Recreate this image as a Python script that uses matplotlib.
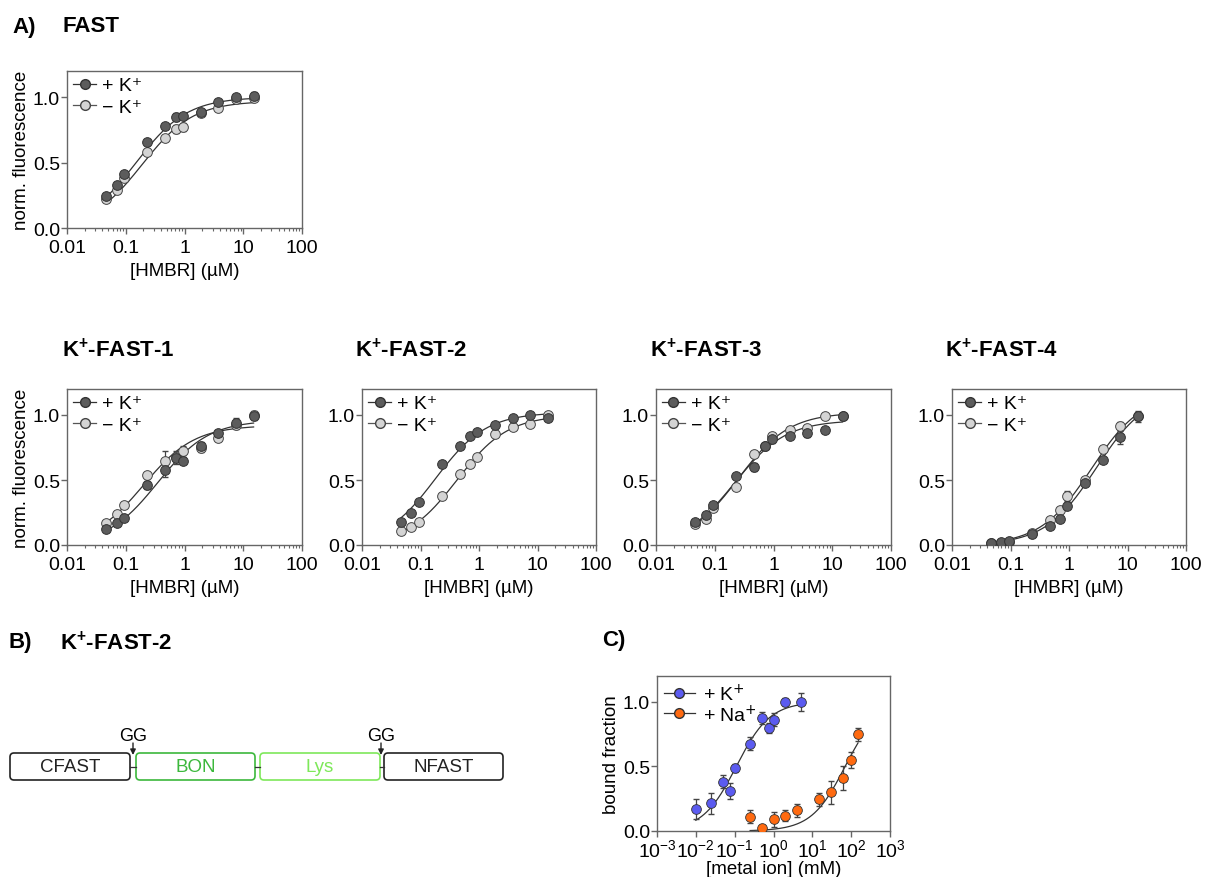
import numpy as np
import matplotlib
matplotlib.use('Agg')
import matplotlib.pyplot as plt
from matplotlib.lines import Line2D
from matplotlib.patches import FancyBboxPatch
from matplotlib.ticker import FixedLocator, LogLocator, NullFormatter

plt.rcParams['font.family'] = ['Liberation Sans', 'DejaVu Sans']
plt.rcParams['mathtext.default'] = 'regular'
plt.rcParams['font.size'] = 13

# HMBR titration (uM), same for all panels
hmbr = [0.047, 0.07, 0.094, 0.234, 0.469, 0.703, 0.9375, 1.875, 3.75, 7.5, 15]

# FAST
fast_pk = [0.245, 0.33, 0.41, 0.655, 0.78, 0.85, 0.855, 0.885, 0.96, 1.0, 1.01]
fast_pk_err = [0.01, 0.02, 0.02, 0.01, 0.01, 0.03, 0.02, 0.01, 0.01, 0.02, 0.03]
fast_mk = [0.22, 0.29, 0.385, 0.58, 0.685, 0.755, 0.775, 0.88, 0.915, 0.985, 0.99]
fast_mk_err = [0.01, 0.01, 0.02, 0.01, 0.01, 0.03, 0.03, 0.01, 0.01, 0.01, 0.02]
fast_fit = [(1.0, 0.15), (0.97, 0.19)]

# K+-FAST-1
f1_pk = [0.12, 0.17, 0.21, 0.46, 0.58, 0.67, 0.65, 0.76, 0.865, 0.94, 0.99]
f1_pk_err = [0.01, 0.01, 0.01, 0.03, 0.06, 0.05, 0.03, 0.03, 0.02, 0.04, 0.03]
f1_mk = [0.17, 0.24, 0.31, 0.54, 0.65, 0.68, 0.72, 0.745, 0.82, 0.92, 1.0]
f1_mk_err = [0.01, 0.01, 0.02, 0.02, 0.07, 0.03, 0.04, 0.03, 0.02, 0.03, 0.03]
f1_fit = [(0.96, 0.35), (0.92, 0.2)]

# K+-FAST-2
f2_pk = [0.18, 0.25, 0.33, 0.62, 0.76, 0.84, 0.87, 0.925, 0.98, 1.0, 0.975]
f2_pk_err = [0.01, 0.01, 0.01, 0.01, 0.02, 0.01, 0.01, 0.01, 0.01, 0.01, 0.01]
f2_mk = [0.105, 0.14, 0.18, 0.375, 0.55, 0.62, 0.68, 0.855, 0.91, 0.93, 1.0]
f2_mk_err = [0.01, 0.01, 0.01, 0.01, 0.01, 0.02, 0.01, 0.01, 0.02, 0.01, 0.01]
f2_fit = [(1.02, 0.18), (1.0, 0.42)]

# K+-FAST-3
f3_pk = [0.175, 0.23, 0.305, 0.53, 0.60, 0.76, 0.815, 0.84, 0.86, 0.885, 0.99]
f3_pk_err = [0.01, 0.02, 0.01, 0.01, 0.03, 0.01, 0.03, 0.01, 0.03, 0.01, 0.02]
f3_mk = [0.16, 0.20, 0.285, 0.45, 0.70, 0.76, 0.835, 0.885, 0.90, 0.99, 0.99]
f3_mk_err = [0.01, 0.01, 0.01, 0.01, 0.01, 0.01, 0.02, 0.01, 0.01, 0.01, 0.01]
f3_fit = [(0.96, 0.22), (1.02, 0.25)]

# K+-FAST-4
f4_pk = [0.018, 0.023, 0.03, 0.085, 0.145, 0.20, 0.30, 0.48, 0.655, 0.83, 0.99]
f4_pk_err = [0.01, 0.01, 0.01, 0.01, 0.01, 0.01, 0.02, 0.01, 0.01, 0.05, 0.03]
f4_mk = [0.015, 0.018, 0.023, 0.095, 0.195, 0.27, 0.375, 0.50, 0.74, 0.915, 0.99]
f4_mk_err = [0.01, 0.01, 0.01, 0.01, 0.01, 0.01, 0.04, 0.01, 0.01, 0.03, 0.04]
f4_fit = [(1.18, 2.9), (1.17, 2.4)]

# C) metal ion titration (mM)
k_conc = [0.01, 0.0245, 0.05, 0.074, 0.1, 0.25, 0.5, 0.75, 1.0, 2.0, 5.0]
k_bound = [0.17, 0.215, 0.38, 0.31, 0.485, 0.675, 0.875, 0.80, 0.86, 1.0, 1.0]
k_err = [0.075, 0.08, 0.05, 0.06, 0.03, 0.05, 0.05, 0.04, 0.05, 0.03, 0.07]
na_conc = [0.25, 0.5, 1.0, 2.0, 4.0, 15, 30, 60, 100, 150]
na_bound = [0.11, 0.025, 0.09, 0.12, 0.16, 0.245, 0.30, 0.41, 0.55, 0.75]
na_err = [0.05, 0.02, 0.06, 0.04, 0.05, 0.05, 0.09, 0.09, 0.06, 0.05]
k_fit = (1.0, 0.11)
na_fit = (1.0, 70.0)

dark = '#5c5c5c'
light = '#d4d4d4'
blue = '#5b5bf0'
orange = '#ff6a10'
frame = '#666666'
FS = 14   # tick label size
LS = 13.5  # axis label size
MS = 7


def hill(x, bmax, kd):
    return bmax * x / (kd + x)


def px_axes(fig, x0, x1, y0, y1):
    W, H = 1210, 878
    return fig.add_axes([x0 / W, 1 - y1 / H, (x1 - x0) / W, (y1 - y0) / H])


def style_axes(ax):
    for s in ax.spines.values():
        s.set_color(frame)
        s.set_linewidth(1.0)
    ax.tick_params(which='major', direction='out', length=4, color=frame, width=1, labelsize=FS)
    ax.tick_params(axis='x', which='major', pad=4)
    ax.tick_params(axis='y', which='major', pad=1)
    ax.tick_params(which='minor', direction='out', length=2, color=frame, width=0.8)


def hmbr_panel(ax, pk, pk_err, mk, mk_err, fit, ylabel=True):
    x = np.array(hmbr)
    xs = np.logspace(np.log10(x[0]), np.log10(x[-1]), 200)
    for b, kd in fit:
        ax.plot(xs, hill(xs, b, kd), color='#333333', lw=0.9, zorder=2)
    ax.errorbar(x, mk, yerr=mk_err, fmt='none', ecolor='#444444', elinewidth=0.9, capsize=2, zorder=3)
    ax.errorbar(x, pk, yerr=pk_err, fmt='none', ecolor='#444444', elinewidth=0.9, capsize=2, zorder=3)
    ax.plot(x, mk, 'o', ms=MS, mfc=light, mec='#444444', mew=0.7, zorder=4)
    ax.plot(x, pk, 'o', ms=MS, mfc=dark, mec='#333333', mew=0.7, zorder=5)
    ax.set_xscale('log')
    ax.set_xlim(0.01, 100)
    ax.set_ylim(0, 1.2)
    ax.xaxis.set_major_locator(FixedLocator([0.01, 0.1, 1, 10, 100]))
    ax.set_xticklabels(['0.01', '0.1', '1', '10', '100'])
    ax.xaxis.set_minor_locator(LogLocator(base=10, subs=np.arange(2, 10)))
    ax.xaxis.set_minor_formatter(NullFormatter())
    ax.set_yticks([0.0, 0.5, 1.0])
    ax.set_yticklabels(['0.0', '0.5', '1.0'])
    ax.set_xlabel('[HMBR] (µM)', fontsize=LS, labelpad=4)
    if ylabel:
        ax.set_ylabel('norm. fluorescence', fontsize=LS, labelpad=2)
    style_axes(ax)
    handles = [Line2D([], [], color='#333333', lw=0.9, marker='o', ms=MS, mfc=dark, mec='#333333'),
               Line2D([], [], color='#555555', lw=0.9, marker='o', ms=MS, mfc=light, mec='#444444')]
    ax.legend(handles, ['+ K⁺', '− K⁺'], loc='upper left', frameon=False, fontsize=14,
              handlelength=1.2, handletextpad=0.3, labelspacing=0.2, borderpad=0.1, borderaxespad=0.2)


fig = plt.figure(figsize=(12.1, 8.78), dpi=100)

title_kw = dict(fontsize=16, fontweight='bold', va='center', ha='left')
fig.text(12 / 1210, 1 - 27 / 878, 'A)', **title_kw)
fig.text(63 / 1210, 1 - 27 / 878, 'FAST', **title_kw)

ax = px_axes(fig, 67, 302, 72, 229)
hmbr_panel(ax, fast_pk, fast_pk_err, fast_mk, fast_mk_err, fast_fit)

panels = [(67, 302, f1_pk, f1_pk_err, f1_mk, f1_mk_err, f1_fit, 'K$^{+}$-FAST-1', 62),
          (362, 596, f2_pk, f2_pk_err, f2_mk, f2_mk_err, f2_fit, 'K$^{+}$-FAST-2', 355),
          (656, 891, f3_pk, f3_pk_err, f3_mk, f3_mk_err, f3_fit, 'K$^{+}$-FAST-3', 650),
          (952, 1186, f4_pk, f4_pk_err, f4_mk, f4_mk_err, f4_fit, 'K$^{+}$-FAST-4', 945)]
for i, (x0, x1, pk, pke, mk, mke, fit, title, tx) in enumerate(panels):
    ax = px_axes(fig, x0, x1, 390, 546)
    hmbr_panel(ax, pk, pke, mk, mke, fit, ylabel=(i == 0))
    fig.text(tx / 1210, 1 - 350 / 878, title, **title_kw)

# B) construct diagram
fig.text(8 / 1210, 1 - 643 / 878, 'B)', **title_kw)
fig.text(60 / 1210, 1 - 643 / 878, 'K$^{+}$-FAST-2', **title_kw)
axb = px_axes(fig, 0, 540, 700, 800)
axb.set_xlim(0, 540)
axb.set_ylim(800, 700)
axb.axis('off')
domains = ['CFAST', 'BON', 'Lys', 'NFAST']
dom_x = [(10, 130), (136, 255), (260, 380), (384, 503)]
dom_col = ['#222222', '#3cb83c', '#7ee85a', '#222222']
for name, (a, b), c in zip(domains, dom_x, dom_col):
    axb.add_patch(FancyBboxPatch((a + 4, 754 + 4), b - a - 8, 27 - 8,
                                 boxstyle='round,pad=4', fc='white', ec=c, lw=1.2))
    axb.text((a + b) / 2, 768, name, color=c, fontsize=13.5, ha='center', va='center')
for (a, b), (c, d) in zip(dom_x[:-1], dom_x[1:]):
    axb.plot([b, c], [767.5, 767.5], color='#333333', lw=0.9)
for gx in [133, 381]:
    axb.text(gx, 737, 'GG', fontsize=13, ha='center', va='center')
    axb.annotate('', xy=(gx, 756), xytext=(gx, 744),
                 arrowprops=dict(arrowstyle='-|>', color='#222222', lw=1.0, mutation_scale=8,
                                 shrinkA=0, shrinkB=0))

# C) metal ion binding
fig.text(602 / 1210, 1 - 641 / 878, 'C)', **title_kw)
axc = px_axes(fig, 657, 890, 677, 832)
xk = np.logspace(np.log10(k_conc[0]), np.log10(k_conc[-1]), 200)
xn = np.logspace(np.log10(na_conc[0]), np.log10(na_conc[-1]), 200)
axc.plot(xk, hill(xk, *k_fit), color='#333333', lw=0.9, zorder=2)
axc.plot(xn, hill(xn, *na_fit), color='#333333', lw=0.9, zorder=2)
axc.errorbar(k_conc, k_bound, yerr=k_err, fmt='none', ecolor='#444444', elinewidth=0.9, capsize=2.5, zorder=3)
axc.errorbar(na_conc, na_bound, yerr=na_err, fmt='none', ecolor='#444444', elinewidth=0.9, capsize=2.5, zorder=3)
axc.plot(k_conc, k_bound, 'o', ms=MS, mfc=blue, mec='#333333', mew=0.6, zorder=4)
axc.plot(na_conc, na_bound, 'o', ms=MS, mfc=orange, mec='#333333', mew=0.6, zorder=4)
axc.set_xscale('log')
axc.set_xlim(1e-3, 1e3)
axc.set_ylim(0, 1.2)
axc.xaxis.set_major_locator(FixedLocator([1e-3, 1e-2, 1e-1, 1, 10, 100, 1000]))
axc.set_xticklabels(['10$^{-3}$', '10$^{-2}$', '10$^{-1}$', '10$^{0}$', '10$^{1}$', '10$^{2}$', '10$^{3}$'])
axc.xaxis.set_minor_locator(LogLocator(base=10, subs=np.arange(2, 10)))
axc.xaxis.set_minor_formatter(NullFormatter())
axc.set_yticks([0.0, 0.5, 1.0])
axc.set_yticklabels(['0.0', '0.5', '1.0'])
axc.set_xlabel('[metal ion] (mM)', fontsize=LS, labelpad=0)
axc.set_ylabel('bound fraction', fontsize=LS, labelpad=2)
style_axes(axc)
axc.tick_params(axis='x', which='major', pad=1)
hc = [Line2D([], [], color='#333333', lw=0.9, marker='o', ms=MS, mfc=blue, mec='#333333'),
      Line2D([], [], color='#333333', lw=0.9, marker='o', ms=MS, mfc=orange, mec='#333333')]
axc.legend(hc, ['+ K$^{\\mathsf{+}}$', '+ Na$^{\\mathsf{+}}$'], loc='upper left', frameon=False, fontsize=14,
           handlelength=1.6, handletextpad=0.4, labelspacing=0.0, borderpad=0.15, borderaxespad=0.2)

fig.savefig('out.png', dpi=100)
